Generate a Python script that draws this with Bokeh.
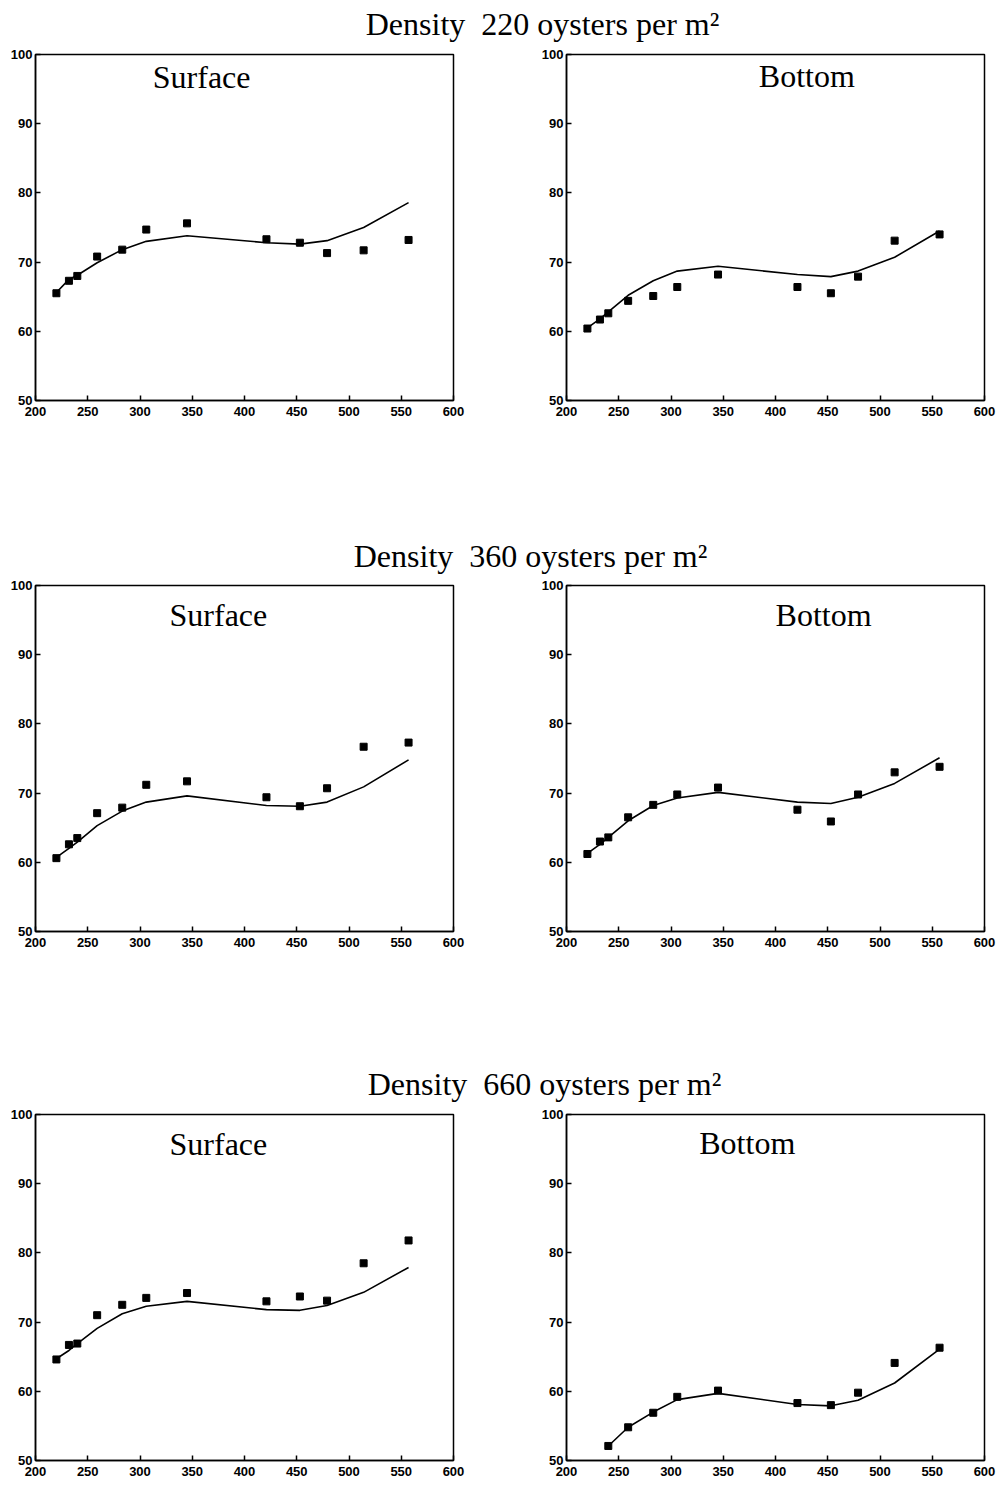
from bokeh.plotting import figure
from bokeh.layouts import column, row
from bokeh.models import Label, FixedTicker
from bokeh.embed import file_html
from bokeh.resources import INLINE

# ---- data ----
days = [220, 232, 240, 259, 283, 306, 345, 421, 453, 479, 514, 557]

d220_surface_obs = [65.5, 67.3, 68.0, 70.8, 71.8, 74.7, 75.6, 73.3, 72.8, 71.3, 71.7, 73.2]
d220_surface_fit = [65.6, 67.5, 68.1, 69.9, 71.8, 73.0, 73.8, 72.8, 72.6, 73.1, 75.0, 78.6]
d220_bottom_obs = [60.4, 61.7, 62.6, 64.4, 65.1, 66.4, 68.2, 66.4, 65.5, 67.9, 73.1, 74.0]
d220_bottom_fit = [60.5, 61.8, 62.8, 65.2, 67.3, 68.7, 69.4, 68.2, 67.9, 68.7, 70.7, 74.5]

d360_surface_obs = [60.6, 62.6, 63.5, 67.1, 67.9, 71.2, 71.7, 69.4, 68.1, 70.7, 76.7, 77.3]
d360_surface_fit = [60.7, 62.0, 62.9, 65.3, 67.4, 68.7, 69.6, 68.2, 68.1, 68.7, 70.9, 74.8]
d360_bottom_obs = [61.2, 63.0, 63.6, 66.5, 68.3, 69.8, 70.8, 67.6, 65.9, 69.8, 73.0, 73.8]
d360_bottom_fit = [61.3, 62.6, 63.6, 66.0, 68.2, 69.3, 70.1, 68.7, 68.5, 69.4, 71.4, 75.1]

d660_surface_obs = [64.6, 66.7, 66.9, 71.0, 72.5, 73.5, 74.2, 73.0, 73.7, 73.1, 78.5, 81.8]
d660_surface_fit = [64.7, 65.9, 66.9, 69.1, 71.2, 72.3, 73.0, 71.8, 71.7, 72.4, 74.3, 77.9]
d660_bottom_days = days[2:]
d660_bottom_obs = [52.1, 54.8, 56.9, 59.2, 60.1, 58.3, 58.0, 59.8, 64.1, 66.3]
d660_bottom_fit = [52.1, 54.8, 57.0, 58.8, 59.7, 58.1, 57.9, 58.7, 61.2, 66.1]

x_ticks = [200, 250, 300, 350, 400, 450, 500, 550, 600]
y_ticks = [50, 60, 70, 80, 90, 100]

row_titles = ["Density\u00a0 220 oysters per m\u00b2",
              "Density\u00a0 360 oysters per m\u00b2",
              "Density\u00a0 660 oysters per m\u00b2"]

SERIF = "Liberation Serif"
SANS = "Liberation Sans"


def title_fig(text, h, xc, ymid):
    f = figure(width=1003, height=h, x_range=(0, 1003), y_range=(0, h),
               toolbar_location=None, output_backend="svg", min_border=0,
               title=None)
    f.axis.visible = False
    f.grid.visible = False
    f.outline_line_color = None
    f.background_fill_color = "white"
    f.border_fill_color = "white"
    f.add_layout(Label(x=xc, y=ymid, text=text, text_font=SERIF,
                       text_font_size="32px", text_align="center",
                       text_baseline="middle", text_color="black"))
    return f


def panel(xs, obs, fit, label, lx, ly, left):
    if left:
        w, bl, br = 536, 35, 83
    else:
        w, bl, br = 467, 30, 19
    f = figure(width=w, height=381, x_range=(200, 600), y_range=(50, 100),
               toolbar_location=None, output_backend="svg", title=None,
               min_border_left=bl, min_border_right=br,
               min_border_top=10, min_border_bottom=25)
    f.grid.visible = False
    f.background_fill_color = "white"
    f.border_fill_color = "white"
    f.outline_line_color = "black"
    f.outline_line_width = 1.5
    f.outline_line_alpha = 1
    f.xaxis.ticker = FixedTicker(ticks=x_ticks)
    f.yaxis.ticker = FixedTicker(ticks=y_ticks)
    for ax in (f.xaxis, f.yaxis):
        ax.axis_line_color = "black"
        ax.axis_line_width = 1.5
        ax.major_tick_line_color = "black"
        ax.major_tick_line_width = 1.5
        ax.major_tick_in = 5
        ax.major_tick_out = 0
        ax.minor_tick_line_color = None
        ax.major_label_text_font = SANS
        ax.major_label_text_font_style = "bold"
        ax.major_label_text_font_size = "13px"
        ax.major_label_text_color = "black"
    f.xaxis.major_label_standoff = 6
    f.yaxis.major_label_standoff = 3
    f.line(xs, fit, line_color="black", line_width=1.6)
    f.scatter(xs, obs, marker="square", size=7, fill_color="black",
              line_color="black")
    f.add_layout(Label(x=lx, y=ly, text=label, text_font=SERIF,
                       text_font_size="32px", text_align="center",
                       text_baseline="middle", text_color="black"))
    return f


t1 = title_fig(row_titles[0], 44, 542, 21)
p1 = panel(days, d220_surface_obs, d220_surface_fit, "Surface", 359, 96.8, True)
p2 = panel(days, d220_bottom_obs, d220_bottom_fit, "Bottom", 430, 96.9, False)

t2 = title_fig(row_titles[1], 150, 530, 20)
p3 = panel(days, d360_surface_obs, d360_surface_fit, "Surface", 375, 95.7, True)
p4 = panel(days, d360_bottom_obs, d360_bottom_fit, "Bottom", 446, 95.7, False)

t3 = title_fig(row_titles[2], 148, 544, 21)
p5 = panel(days, d660_surface_obs, d660_surface_fit, "Surface", 375, 95.8, True)
p6 = panel(d660_bottom_days, d660_bottom_obs, d660_bottom_fit, "Bottom", 373, 95.9, False)

layout = column(t1, row(p1, p2, spacing=0), t2, row(p3, p4, spacing=0),
                t3, row(p5, p6, spacing=0), spacing=0)

open("out.html", "w").write(file_html(layout, INLINE))
